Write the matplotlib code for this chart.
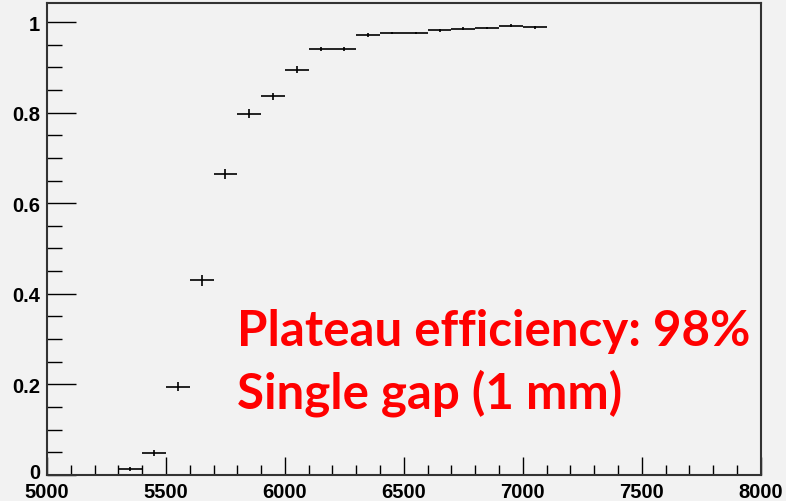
import numpy as np
import matplotlib.pyplot as plt
import matplotlib.transforms as mtransforms
from matplotlib.ticker import MultipleLocator

# Datos: centros de bin (voltaje) y eficiencia
voltage = [5350, 5450, 5550, 5650, 5750, 5850, 5950, 6050, 6150,
           6250, 6350, 6450, 6550, 6650, 6750, 6850, 6950, 7050]
efficiency = [0.013, 0.048, 0.195, 0.430, 0.664, 0.797, 0.836, 0.895, 0.940,
              0.940, 0.972, 0.976, 0.976, 0.982, 0.985, 0.987, 0.992, 0.988]
eff_err = [0.004, 0.007, 0.010, 0.012, 0.011, 0.010, 0.008, 0.007, 0.005,
           0.005, 0.004, 0.003, 0.003, 0.003, 0.003, 0.003, 0.003, 0.003]
bin_half = [50] * len(voltage)

text_lines = ['Plateau efficiency: 98%', 'Single gap (1 mm)']

bg = '#f2f2f2'
fig = plt.figure(figsize=(7.86, 5.02), dpi=100, facecolor=bg)
ax = fig.add_axes([0.0598, 0.052, 0.908, 0.940], facecolor=bg)

ax.errorbar(voltage, efficiency, xerr=bin_half, yerr=eff_err,
            fmt='none', ecolor='black', elinewidth=1.2, capsize=0)

ax.set_xlim(5000, 8000)
ax.set_ylim(0, 1.042)

ax.xaxis.set_major_locator(MultipleLocator(500))
ax.xaxis.set_minor_locator(MultipleLocator(100))
ax.yaxis.set_major_locator(MultipleLocator(0.2))
ax.yaxis.set_minor_locator(MultipleLocator(0.05))

ax.tick_params(axis='x', which='major', direction='in', length=13, width=1, pad=5)
ax.tick_params(axis='x', which='minor', direction='in', length=7, width=1)
ax.tick_params(axis='y', which='major', direction='in', length=21, width=1, pad=5)
ax.tick_params(axis='y', which='minor', direction='in', length=11, width=1)
ax.tick_params(top=False, right=False, which='both')

ax.set_yticks([0, 0.2, 0.4, 0.6, 0.8, 1.0])
ax.set_yticklabels(['0', '0.2', '0.4', '0.6', '0.8', '1'])
for lbl in ax.get_xticklabels() + ax.get_yticklabels():
    lbl.set_fontfamily('Liberation Sans')
    lbl.set_fontweight('bold')
    lbl.set_fontsize(14.5)

# el "0" del eje y, un poco hacia arriba para no pisar el "5000"
zero_lbl = ax.get_yticklabels()[0]
zero_lbl.set_transform(zero_lbl.get_transform() +
                       mtransforms.ScaledTranslation(0, 3 / 72, fig.dpi_scale_trans))

for side in ['left', 'bottom', 'top', 'right']:
    ax.spines[side].set_linewidth(1.5)
    ax.spines[side].set_color('#333333')

# Texto rojo (dos líneas)
fig.text(0.3015, 0.311, text_lines[0], color='#ff0000', fontsize=35.5,
         fontweight='bold', family='Lato', ha='left', va='baseline')
fig.text(0.3015, 0.187, text_lines[1], color='#ff0000', fontsize=35.5,
         fontweight='bold', family='Lato', ha='left', va='baseline')

fig.savefig('out.png', dpi=100, facecolor=bg)
